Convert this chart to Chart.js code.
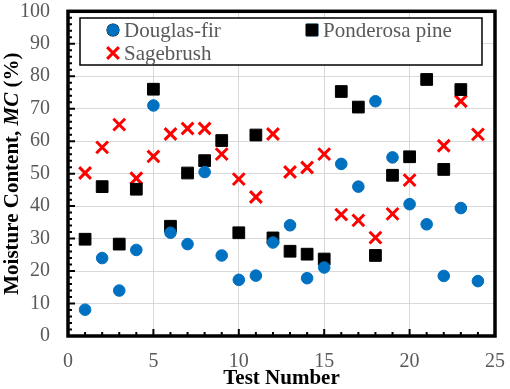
<!DOCTYPE html>
<html>
<head>
<meta charset="utf-8">
<script src="https://cdn.jsdelivr.net/npm/chart.js@4.4.1/dist/chart.umd.min.js"></script>
<style>
    html, body { margin: 0; padding: 0; background: #fff; }
    #wrap { width: 510px; height: 389px; position: relative; }
</style>
</head>
<body>
<div id="wrap"><canvas id="chart"></canvas></div>
<script>
// test numbers
const testsFir = [1, 2, 3, 4, 5, 6, 7, 8, 9, 10, 11, 12, 13, 14, 15, 16, 17, 18, 19, 20, 21, 22, 23, 24];
const douglasFir = [8.1, 24, 14, 26.5, 71, 31.8, 28.3, 50.5, 24.8, 17.3, 18.6, 28.8, 34.1, 17.8, 21.1, 53, 46, 72.3, 55, 40.6, 34.4, 18.5, 39.4, 16.9];

const testsPine = [1, 2, 3, 4, 5, 6, 7, 8, 9, 10, 11, 12, 13, 14, 15, 16, 17, 18, 19, 20, 21, 22, 23];
const ponderosaPine = [29.8, 46, 28.3, 45.2, 76, 33.8, 50.2, 54, 60.2, 31.8, 61.9, 30.2, 26.1, 25.2, 23.7, 75.3, 70.5, 24.8, 49.5, 55.2, 79, 51.3, 75.9];

const testsSage = [1, 2, 3, 4, 5, 6, 7, 8, 9, 10, 11, 12, 13, 14, 15, 16, 17, 18, 19, 20, 22, 23, 24];
const sagebrush = [50.2, 58.1, 65.1, 48.6, 55.3, 62.2, 63.9, 63.9, 56, 48.3, 42.8, 62.2, 50.5, 51.9, 56, 37.4, 35.6, 30.3, 37.6, 48, 58.6, 72.3, 62.1];

const xTicks = [0, 5, 10, 15, 20, 25];
const yTicks = [0, 10, 20, 30, 40, 50, 60, 70, 80, 90, 100];

const serif = '"Liberation Serif", "Times New Roman", serif';
const grey = '#595959';

function toPoints(xs, ys) {
    return xs.map((x, i) => ({ x: x, y: ys[i] }));
}

// frame, inward ticks, y title and legend box
const decorations = {
    id: 'decorations',
    afterDraw(chart) {
        const ctx = chart.ctx;
        const a = chart.chartArea;
        const xs = chart.scales.x;
        const ys = chart.scales.y;
        ctx.save();

        // tick marks inside the frame
        ctx.strokeStyle = '#000';
        ctx.lineWidth = 2;
        ctx.beginPath();
        for (let v = 0; v <= 25; v++) {
            const px = xs.getPixelForValue(v);
            const len = v % 5 === 0 ? 7 : 4;
            ctx.moveTo(px, a.bottom);
            ctx.lineTo(px, a.bottom - len);
        }
        for (let v = 0; v <= 100; v += 2) {
            const py = ys.getPixelForValue(v);
            const len = v % 10 === 0 ? 7 : 4;
            ctx.moveTo(a.left, py);
            ctx.lineTo(a.left + len, py);
        }
        ctx.stroke();

        // thick frame
        ctx.lineWidth = 3.5;
        ctx.strokeRect(a.left, a.top, a.right - a.left, a.bottom - a.top);

        // y axis title with italic MC
        ctx.translate(13, (a.top + a.bottom) / 2);
        ctx.rotate(-Math.PI / 2);
        ctx.fillStyle = '#000';
        ctx.textBaseline = 'middle';
        const parts = [
            ['bold 21px ' + serif, 'Moisture Content, '],
            ['italic bold 21px ' + serif, 'MC'],
            ['bold 21px ' + serif, ' (%)']
        ];
        let total = 0;
        parts.forEach(p => { ctx.font = p[0]; total += ctx.measureText(p[1]).width; });
        let cx = -total / 2;
        ctx.textAlign = 'left';
        parts.forEach(p => {
            ctx.font = p[0];
            ctx.fillText(p[1], cx, 0);
            cx += ctx.measureText(p[1]).width;
        });
        ctx.setTransform(1, 0, 0, 1, 0, 0);

        // legend
        const bx = 80, by = 18, bw = 402, bh = 47;
        ctx.fillStyle = '#fff';
        ctx.fillRect(bx, by, bw, bh);
        ctx.strokeStyle = '#000';
        ctx.lineWidth = 1.5;
        ctx.strokeRect(bx, by, bw, bh);

        const items = [
            { ds: 0, mx: 113, ty: 30 },
            { ds: 1, mx: 312, ty: 30 },
            { ds: 2, mx: 113, ty: 53 }
        ];
        ctx.font = '21px ' + serif;
        ctx.textAlign = 'left';
        ctx.textBaseline = 'middle';
        items.forEach(it => {
            const d = chart.data.datasets[it.ds];
            Chart.helpers.drawPoint(ctx, {
                pointStyle: d.pointStyle,
                radius: d.pointRadius,
                borderWidth: d.borderWidth
            }, it.mx, it.ty);
            ctx.fillStyle = d.backgroundColor;
            ctx.strokeStyle = d.borderColor;
            ctx.lineWidth = d.borderWidth;
            if (d.pointStyle !== 'crossRot') ctx.fill();
            ctx.stroke();
            ctx.fillStyle = grey;
            ctx.fillText(d.label, it.mx + 11, it.ty + 1);
        });
        ctx.restore();
    }
};

new Chart(document.getElementById('chart'), {
    type: 'scatter',
    data: {
        datasets: [
            {
                label: 'Douglas-fir',
                data: toPoints(testsFir, douglasFir),
                pointStyle: 'circle',
                pointRadius: 5.8,
                backgroundColor: '#0070C0',
                borderColor: '#0070C0',
                borderWidth: 1
            },
            {
                label: 'Ponderosa pine',
                data: toPoints(testsPine, ponderosaPine),
                pointStyle: 'rect',
                pointRadius: 8.3,
                backgroundColor: '#000000',
                borderColor: '#000000',
                borderWidth: 1
            },
            {
                label: 'Sagebrush',
                data: toPoints(testsSage, sagebrush),
                pointStyle: 'crossRot',
                pointRadius: 8.3,
                backgroundColor: '#FF0000',
                borderColor: '#FF0000',
                borderWidth: 3
            }
        ]
    },
    options: {
        responsive: true,
        maintainAspectRatio: false,
        animation: false,
        layout: { padding: { top: 11, right: 15, left: 0, bottom: 0 } },
        plugins: {
            legend: { display: false },
            tooltip: { enabled: false }
        },
        scales: {
            x: {
                type: 'linear',
                min: 0,
                max: 25,
                afterBuildTicks: (scale) => { scale.ticks = xTicks.map(v => ({ value: v })); },
                afterFit: (scale) => {
                    scale.height = 53;
                    scale.paddingLeft = 0;
                    scale.paddingRight = 0;
                },
                grid: { color: '#d9d9d9', lineWidth: 1, drawTicks: false },
                border: { display: false },
                ticks: {
                    padding: 14,
                    color: grey,
                    font: { family: serif, size: 20 },
                    maxRotation: 0
                },
                title: {
                    display: true,
                    text: 'Test Number',
                    color: '#000',
                    font: { family: serif, size: 21, weight: 'bold', lineHeight: 1.0 },
                    padding: { top: 0, bottom: 0 }
                }
            },
            y: {
                min: 0,
                max: 100,
                afterBuildTicks: (scale) => { scale.ticks = yTicks.map(v => ({ value: v })); },
                afterFit: (scale) => {
                    scale.width = 68;
                    scale.paddingTop = 0;
                    scale.paddingBottom = 0;
                },
                grid: { color: '#d9d9d9', lineWidth: 1, drawTicks: false },
                border: { display: false },
                ticks: {
                    padding: 18,
                    color: grey,
                    font: { family: serif, size: 20 }
                }
            }
        }
    },
    plugins: [decorations]
});
</script>
</body>
</html>
